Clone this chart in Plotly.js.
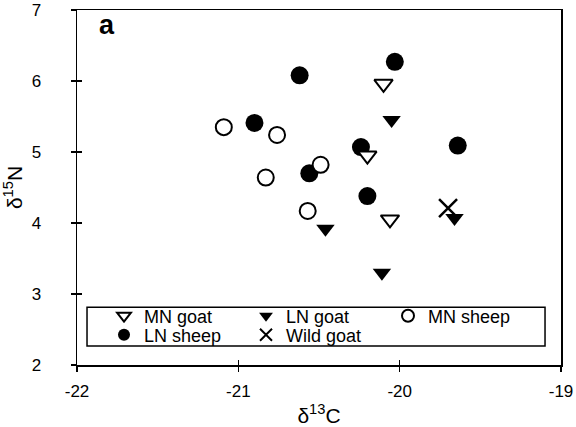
<!DOCTYPE html>
<html>
<head>
<meta charset="utf-8">
<script src="https://cdn.plot.ly/plotly-3.0.1.min.js"></script>
<style>html,body{margin:0;padding:0;background:#fff;}#chart{width:576px;height:427px;}</style>
</head>
<body>
<div id="chart"></div>
<script>
// Data (δ13C, δ15N)
var mnGoatX = [-20.10, -20.20, -20.06];
var mnGoatY = [5.96, 4.95, 4.05];
var lnGoatX = [-20.05, -20.46, -20.11, -19.66];
var lnGoatY = [5.45, 3.92, 3.30, 4.07];
var mnSheepX = [-21.09, -20.76, -20.49, -20.83, -20.57];
var mnSheepY = [5.35, 5.24, 4.82, 4.64, 4.17];
var lnSheepX = [-20.62, -20.03, -20.90, -20.24, -20.56, -20.20, -19.64];
var lnSheepY = [6.08, 6.27, 5.41, 5.07, 4.70, 4.38, 5.09];
var wildGoatX = [-19.70];
var wildGoatY = [4.21];
var xTicks = [-22, -21, -20, -19];
var yTicks = [2, 3, 4, 5, 6, 7];

var FONT = 'Liberation Sans, Arial, sans-serif';

var traces = [
  {name: 'LN sheep', x: lnSheepX, y: lnSheepY, legend: 'legend2', legendrank: 1,
   marker: {symbol: 'circle', size: 18, color: '#000', line: {width: 0}}},
  {name: 'LN goat', x: lnGoatX, y: lnGoatY, legend: 'legend', legendrank: 2,
   marker: {symbol: 'triangle-down', size: 16, color: '#000', line: {width: 0}}},
  {name: 'MN goat', x: mnGoatX, y: mnGoatY, legend: 'legend', legendrank: 1,
   marker: {symbol: 'triangle-down', size: 16, color: '#fff', line: {width: 2, color: '#000'}}},
  {name: 'MN sheep', x: mnSheepX, y: mnSheepY, legend: 'legend', legendrank: 3,
   marker: {symbol: 'circle', size: 16, color: '#fff', line: {width: 2, color: '#000'}}},
  {name: 'Wild goat', x: wildGoatX, y: wildGoatY, legend: 'legend2', legendrank: 2,
   marker: {symbol: 'x-thin-open', size: 18, color: '#000', line: {width: 2.5, color: '#000'}}}
].map(function (t) {
  t.type = 'scatter'; t.mode = 'markers'; t.cliponaxis = false; return t;
});

// invisible helper trace to carry the inside half of the crossing ticks
traces.push({type: 'scatter', mode: 'markers', x: [null], y: [null], xaxis: 'x2', yaxis: 'y2',
  showlegend: false, hoverinfo: 'skip'});

function legendAt(y) {
  return {
    orientation: 'h', x: 0.0558, y: y, xanchor: 'left', yanchor: 'middle',
    bgcolor: 'rgba(0,0,0,0)', borderwidth: 0,
    entrywidth: 97, entrywidthmode: 'pixels',
    itemsizing: 'constant', traceorder: 'normal',
    font: {family: FONT, size: 18, color: '#000'}
  };
}

var layout = {
  width: 576, height: 427,
  margin: {l: 77, r: 15, t: 10, b: 62},
  paper_bgcolor: '#fff', plot_bgcolor: '#fff',
  font: {family: FONT, size: 17, color: '#000'},
  showlegend: true,
  legend: legendAt(0.138),
  legend2: legendAt(0.0845),
  xaxis: {
    range: [-22, -19], tickvals: xTicks, ticktext: xTicks.map(String),
    ticks: 'outside', ticklen: 5, tickwidth: 1.5, tickcolor: '#000',
    showline: true, linecolor: '#000', linewidth: 1.5, mirror: true,
    showgrid: false, zeroline: false,
    tickfont: {family: FONT, size: 17}, ticklabelstandoff: 5,
    title: {text: 'δ<sup>13</sup>C', font: {family: FONT, size: 21}, standoff: 10}
  },
  yaxis: {
    range: [2, 7], tickvals: yTicks, ticktext: yTicks.map(String),
    ticks: 'outside', ticklen: 5, tickwidth: 1.5, tickcolor: '#000',
    showline: true, linecolor: '#000', linewidth: 1.5, mirror: true,
    showgrid: false, zeroline: false,
    tickfont: {family: FONT, size: 17}, ticklabelstandoff: 26,
    title: {text: 'δ<sup>15</sup>N', font: {family: FONT, size: 21}, standoff: 7}
  },
  xaxis2: {overlaying: 'x', matches: 'x', range: [-22, -19], tickvals: xTicks,
    ticks: 'inside', ticklen: 5, tickwidth: 1.5, tickcolor: '#000',
    showticklabels: false, showgrid: false, zeroline: false, showline: false},
  yaxis2: {overlaying: 'y', matches: 'y', range: [2, 7], tickvals: yTicks,
    ticks: 'inside', ticklen: 5, tickwidth: 1.5, tickcolor: '#000',
    showticklabels: false, showgrid: false, zeroline: false, showline: false},
  shapes: [{type: 'rect', xref: 'paper', yref: 'paper',
    x0: 0.0207, x1: 0.967, y0: 0.0535, y1: 0.163,
    line: {color: '#000', width: 1.5}, fillcolor: 'rgba(0,0,0,0)', layer: 'below'}],
  annotations: [{text: '<b>a</b>', xref: 'paper', yref: 'paper', x: 0.041, y: 0.958,
    xanchor: 'left', yanchor: 'middle', showarrow: false,
    font: {family: FONT, size: 27, color: '#000'}}]
};

Plotly.newPlot('chart', traces, layout, {displayModeBar: false, staticPlot: true});
</script>
</body>
</html>
